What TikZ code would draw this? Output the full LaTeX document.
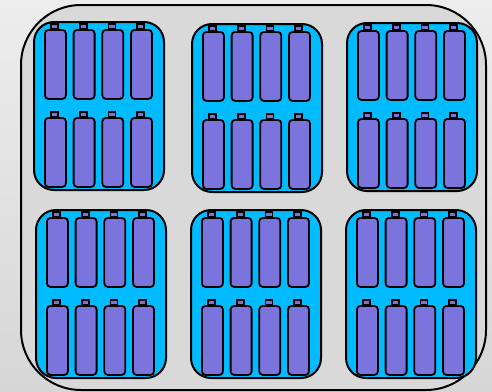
\documentclass[tikz,border=0pt]{standalone}
\usepackage{tikz}
\usetikzlibrary{positioning}
\definecolor{BgLight}{HTML}{EDEDED}
\definecolor{BgDark}{HTML}{D6D6D6}
\definecolor{PackGray}{HTML}{D9D9D9}
\definecolor{ModuleBlue}{HTML}{00BBFF}
\definecolor{CellPurple}{HTML}{7B74DC}
\tikzset{
  pack/.style={draw=black, line width=2pt, rounded corners=60pt, fill=PackGray},
  module/.style={draw=black, line width=2pt, rounded corners=20pt, fill=ModuleBlue, minimum width=130pt, minimum height=168pt, inner sep=0pt},
  cell/.style={draw=black, line width=1.8pt, rounded corners=3.5pt, fill=CellPurple, minimum width=21pt, minimum height=69pt, inner sep=0pt},
  termcap/.style={draw=black, line width=1.6pt, fill=CellPurple, minimum width=7pt, minimum height=5pt, inner sep=0pt}
}

\begin{document}
\begin{tikzpicture}[x=1pt, y=-1pt]
\useasboundingbox (0,0) rectangle (492,391);
\shade[top color=BgLight, bottom color=BgDark] (0,0) rectangle (492,391);
\draw[pack] (21,5) rectangle (486,390);
% modules, each with two rows of four cells
\foreach \m/\mx/\my in {1/33/21, 2/191/23, 3/346/22, 4/35/209, 5/190/209, 6/345/209}{
  \node[module, anchor=north west] (mod-\m) at (\mx,\my) {};
  \foreach \j in {0,1}{
    \foreach \i in {0,...,3}{
      \node[termcap, anchor=south] (cap-\m-\j-\i) at (\mx+21.5+\i*28.7, \my+8.5+\j*88) {};
      \node[cell, anchor=north west] (cell-\m-\j-\i) at (\mx+11+\i*28.7, \my+8+\j*88) {};
    }
  }
}
\end{tikzpicture}
\end{document}
